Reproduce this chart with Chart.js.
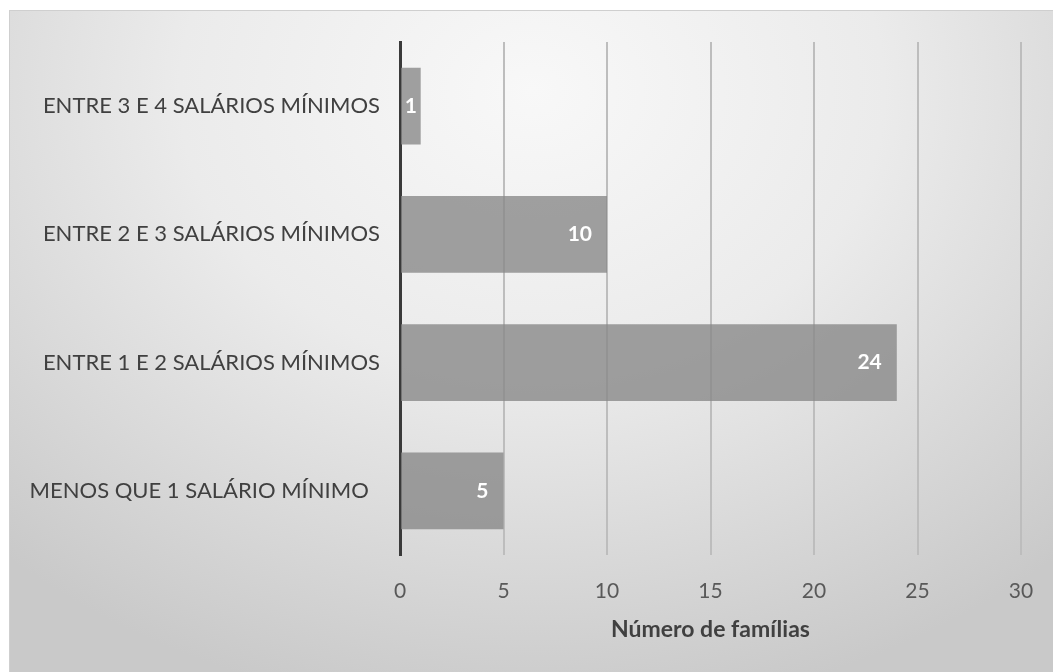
<!DOCTYPE html>
<html>
<head>
<meta charset="utf-8">
<script src="https://cdn.jsdelivr.net/npm/chart.js@4"></script>
<style>
  html, body { margin: 0; padding: 0; background: #fff; }
  #panel {
    position: absolute; left: 9px; top: 10px; width: 1044px; height: 662px;
    background: radial-gradient(ellipse 75% 95% at 50% 12%, #f8f8f8 0%, #ebebeb 45%, #c9c9c9 100%);
    border-top: 1px solid #cfcfcf; border-left: 1px solid #cfcfcf;
  }
  #wrap { position: absolute; left: 0; top: 0; width: 1053px; height: 672px; }
</style>
</head>
<body>
<div id="panel"></div>
<div id="wrap"><canvas id="chart" width="1053" height="672"></canvas></div>
<script>
// Renda familiar - número de famílias por faixa salarial
const categories = [
  'ENTRE 3 E 4 SALÁRIOS MÍNIMOS',
  'ENTRE 2 E 3 SALÁRIOS MÍNIMOS',
  'ENTRE 1 E 2 SALÁRIOS MÍNIMOS',
  'MENOS QUE 1 SALÁRIO MÍNIMO  '
];
const familias = [1, 10, 24, 5];
const xTicks = [0, 5, 10, 15, 20, 25, 30];
const axisTitle = 'Número de famílias';

const fontFamily = 'Lato, "Open Sans", sans-serif';

// white labels at the inner end of each bar
const barLabels = {
  id: 'barLabels',
  afterDatasetsDraw(chart) {
    const ctx = chart.ctx;
    const meta = chart.getDatasetMeta(0);
    ctx.save();
    ctx.fillStyle = '#ffffff';
    ctx.font = 'bold 21px ' + fontFamily;
    ctx.textBaseline = 'middle';
    meta.data.forEach((bar, i) => {
      const w = bar.x - bar.base;
      if (w < 30) {
        ctx.textAlign = 'center';
        ctx.fillText(String(familias[i]), (bar.x + bar.base) / 2, bar.y);
      } else {
        ctx.textAlign = 'right';
        ctx.fillText(String(familias[i]), bar.x - 15, bar.y);
      }
    });
    ctx.restore();
  }
};

const ctx = document.getElementById('chart');
new Chart(ctx, {
  type: 'bar',
  data: {
    labels: categories,
    datasets: [{
      data: familias,
      backgroundColor: 'rgba(135, 135, 135, 0.78)',
      borderWidth: 0,
      categoryPercentage: 0.6,
      barPercentage: 1.0
    }]
  },
  options: {
    indexAxis: 'y',
    responsive: false,
    animation: false,
    layout: { padding: { top: 42, right: 32, left: 0, bottom: 29 } },
    plugins: {
      legend: { display: false },
      tooltip: { enabled: false }
    },
    scales: {
      x: {
        min: 0,
        max: 30,
        afterBuildTicks: (scale) => {
          scale.ticks = xTicks.map(v => ({ value: v }));
        },
        afterFit: (scale) => {
          scale.height = 88;
          scale.paddingRight = 0;
          scale.paddingLeft = 0;
        },
        ticks: {
          color: '#595959',
          font: { family: fontFamily, size: 21 },
          padding: 24
        },
        grid: {
          color: (c) => c.tick && c.tick.value === 0 ? 'rgba(0,0,0,0)' : '#bdbdbd',
          lineWidth: 2,
          drawTicks: false
        },
        border: { display: false },
        title: {
          display: true,
          text: axisTitle,
          color: '#404040',
          font: { family: fontFamily, size: 23, weight: 'bold' },
          padding: { top: 4, bottom: 0 }
        }
      },
      y: {
        afterFit: (scale) => { scale.width = 400; },
        ticks: {
          color: '#404040',
          font: { family: fontFamily, size: 22 },
          padding: 20
        },
        grid: { display: false, drawTicks: false },
        border: { display: true, color: '#3a3a3a', width: 3 }
      }
    }
  },
  plugins: [barLabels]
});
</script>
</body>
</html>
